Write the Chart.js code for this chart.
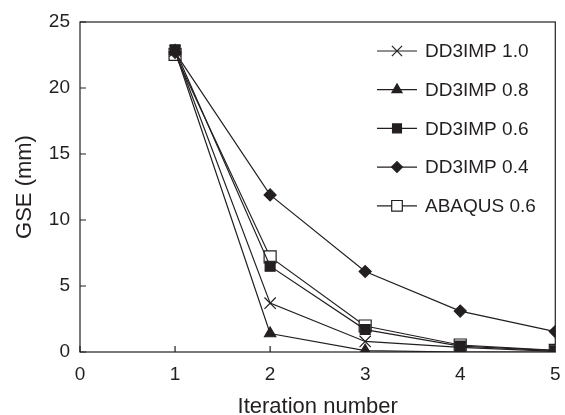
<!DOCTYPE html>
<html>
<head>
<meta charset="utf-8">
<script src="https://cdn.jsdelivr.net/npm/chart.js@4/dist/chart.umd.min.js"></script>
<style>
  html, body { margin: 0; padding: 0; background: #fff; }
  #wrap { width: 565px; height: 415px; position: relative; }
</style>
</head>
<body>
<div id="wrap"><canvas id="c" width="565" height="415"></canvas></div>
<script>
const iterations = [1, 2, 3, 4, 5];
const seriesNames = ['DD3IMP 1.0', 'DD3IMP 0.8', 'DD3IMP 0.6', 'DD3IMP 0.4', 'ABAQUS 0.6'];
const dd3imp10 = [22.8, 3.7, 0.8, 0.35, 0.05];
const dd3imp08 = [22.8, 1.4, 0.1, 0.0, 0.0];
const dd3imp06 = [22.9, 6.5, 1.7, 0.45, 0.1];
const dd3imp04 = [22.7, 11.9, 6.1, 3.1, 1.55];
const abaqus06 = [22.55, 7.2, 1.97, 0.53, 0.12];
const xTicks = [0, 1, 2, 3, 4, 5];
const yTicks = [0, 5, 10, 15, 20, 25];

const ink = '#231f20';
const fontFam = '"Liberation Sans", Arial, Helvetica, sans-serif';

const styles = [
  { pointStyle: 'crossRot', radius: 8, bg: ink },
  { pointStyle: 'triangle', radius: 6.5, bg: ink },
  { pointStyle: 'rect', radius: 7, bg: ink },
  { pointStyle: 'rectRot', radius: 6, bg: ink },
  { pointStyle: 'rect', radius: 8.5, bg: '#ffffff' }
];
const values = [dd3imp10, dd3imp08, dd3imp06, dd3imp04, abaqus06];

const datasets = seriesNames.map((name, i) => ({
  label: name,
  data: iterations.map((x, j) => ({ x: x, y: values[i][j] })),
  borderColor: ink,
  borderWidth: 1.2,
  pointStyle: styles[i].pointStyle,
  pointRadius: styles[i].radius,
  pointHoverRadius: styles[i].radius,
  pointBackgroundColor: styles[i].bg,
  pointBorderColor: ink,
  pointBorderWidth: 1.2,
  tension: 0,
  fill: false,
  showLine: true
}));

function drawMarker(ctx, style, radius, x, y, bg) {
  ctx.save();
  ctx.fillStyle = bg;
  ctx.strokeStyle = ink;
  ctx.lineWidth = 1.2;
  ctx.beginPath();
  if (style === 'crossRot') {
    const o = Math.SQRT1_2 * radius;
    ctx.moveTo(x - o, y - o); ctx.lineTo(x + o, y + o);
    ctx.moveTo(x - o, y + o); ctx.lineTo(x + o, y - o);
    ctx.stroke();
  } else if (style === 'triangle') {
    ctx.moveTo(x, y - radius);
    ctx.lineTo(x + radius * 0.866, y + radius * 0.5);
    ctx.lineTo(x - radius * 0.866, y + radius * 0.5);
    ctx.closePath(); ctx.fill(); ctx.stroke();
  } else if (style === 'rect') {
    const s = Math.SQRT1_2 * radius;
    ctx.rect(x - s, y - s, 2 * s, 2 * s);
    ctx.fill(); ctx.stroke();
  } else if (style === 'rectRot') {
    ctx.moveTo(x, y - radius); ctx.lineTo(x + radius, y);
    ctx.lineTo(x, y + radius); ctx.lineTo(x - radius, y);
    ctx.closePath(); ctx.fill(); ctx.stroke();
  }
  ctx.restore();
}

const framePlugin = {
  id: 'frame',
  beforeDatasetsDraw(chart) {
    const { ctx, chartArea: a, scales } = chart;
    ctx.save();
    ctx.strokeStyle = ink;
    ctx.lineWidth = 1.2;
    ctx.strokeRect(a.left, a.top, a.right - a.left, a.bottom - a.top);
    ctx.beginPath();
    yTicks.forEach(v => {
      const py = scales.y.getPixelForValue(v);
      ctx.moveTo(a.left, py); ctx.lineTo(a.left + 6, py);
    });
    xTicks.forEach(v => {
      const px = scales.x.getPixelForValue(v);
      ctx.moveTo(px, a.bottom); ctx.lineTo(px, a.bottom - 6);
    });
    ctx.stroke();
    ctx.restore();
  }
};

const legendPlugin = {
  id: 'insideLegend',
  afterDatasetsDraw(chart) {
    const { ctx } = chart;
    const lx0 = 377, lx1 = 417, tx = 425;
    const y0 = 51, dy = 38.7;
    ctx.save();
    ctx.font = '19px ' + fontFam;
    ctx.textBaseline = 'middle';
    ctx.textAlign = 'left';
    seriesNames.forEach((name, i) => {
      const y = y0 + i * dy;
      ctx.strokeStyle = ink;
      ctx.lineWidth = 1.2;
      ctx.beginPath(); ctx.moveTo(lx0, y); ctx.lineTo(lx1, y); ctx.stroke();
      const r = styles[i].pointStyle === 'rect' && i === 4 ? 7.5 : styles[i].radius * 0.9;
      drawMarker(ctx, styles[i].pointStyle, r, (lx0 + lx1) / 2, y, styles[i].bg);
      ctx.fillStyle = ink;
      ctx.fillText(name, tx, y + 1);
    });
    ctx.restore();
  }
};

new Chart(document.getElementById('c'), {
  type: 'line',
  data: { datasets: datasets },
  options: {
    responsive: false,
    animation: false,
    devicePixelRatio: 1,
    layout: { padding: { left: 0, right: 7, top: 22, bottom: 0 } },
    plugins: { legend: { display: false }, tooltip: { enabled: false } },
    scales: {
      x: {
        type: 'linear',
        min: 0, max: 5,
        afterFit(scale) { scale.height = 63; scale.paddingRight = 0; scale.paddingLeft = 0; },
        afterBuildTicks(scale) { scale.ticks = xTicks.map(v => ({ value: v })); },
        grid: { display: false, drawTicks: false },
        border: { display: false },
        ticks: { color: ink, font: { family: fontFam, size: 19 }, padding: 11, maxRotation: 0 },
        title: { display: true, text: 'Iteration number', color: ink,
                 font: { family: fontFam, size: 22, lineHeight: 1 }, padding: { top: 0, bottom: -3 } }
      },
      y: {
        type: 'linear',
        min: 0, max: 25,
        afterFit(scale) { scale.width = 80; scale.paddingTop = 0; scale.paddingBottom = 0; },
        afterBuildTicks(scale) { scale.ticks = yTicks.map(v => ({ value: v })); },
        grid: { display: false, drawTicks: false },
        border: { display: false },
        ticks: { color: ink, font: { family: fontFam, size: 19 }, padding: 10 },
        title: { display: true, text: 'GSE (mm)', color: ink,
                 font: { family: fontFam, size: 22, lineHeight: 1.2 }, padding: { top: 12, bottom: 0 } }
      }
    }
  },
  plugins: [framePlugin, legendPlugin]
});
</script>
</body>
</html>
